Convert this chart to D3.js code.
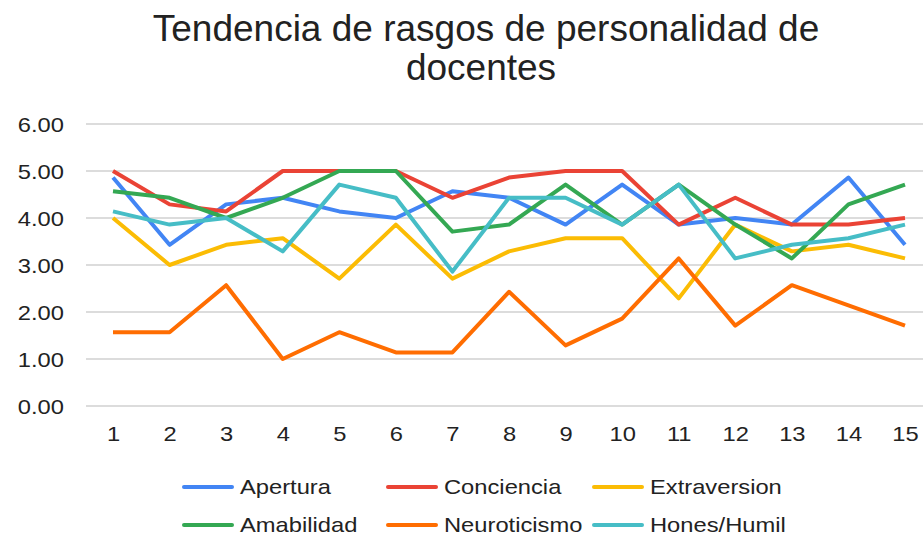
<!DOCTYPE html>
<html lang="es">
<head>
<meta charset="UTF-8">
<script src="https://cdn.jsdelivr.net/npm/d3@7"></script>
<title>Tendencia de rasgos</title>
<style>
  body { margin:0; background:#fff; }
  svg text { font-family: "Liberation Sans", Arial, sans-serif; fill:#222; }
</style>
</head>
<body>
<script>
// datos
const docentes = [1,2,3,4,5,6,7,8,9,10,11,12,13,14,15];
const seriesNames = ["Apertura","Conciencia","Extraversion","Amabilidad","Neuroticismo","Hones/Humil"];
const apertura     = [4.86,3.43,4.29,4.43,4.14,4.00,4.57,4.43,3.86,4.71,3.86,4.00,3.86,4.86,3.43];
const conciencia   = [5.00,4.29,4.14,5.00,5.00,5.00,4.43,4.86,5.00,5.00,3.86,4.43,3.86,3.86,4.00];
const extraversion = [4.00,3.00,3.43,3.57,2.71,3.86,2.71,3.29,3.57,3.57,2.29,3.86,3.29,3.43,3.14];
const amabilidad   = [4.57,4.43,4.00,4.43,5.00,5.00,3.71,3.86,4.71,3.86,4.71,3.86,3.14,4.29,4.71];
const neuroticismo = [1.57,1.57,2.57,1.00,1.57,1.14,1.14,2.43,1.29,1.86,3.14,1.71,2.57,2.14,1.71];
const honesHumil   = [4.14,3.86,4.00,3.29,4.71,4.43,2.86,4.43,4.43,3.86,4.71,3.14,3.43,3.57,3.86];
const yTicks = [0,1,2,3,4,5,6];

const colors = ["#4285f4","#ea4335","#fbbc04","#34a853","#ff6d01","#46bdc6"];
const allSeries = [apertura,conciencia,extraversion,amabilidad,neuroticismo,honesHumil];

const width = 923, height = 537;
const svg = d3.select("body").append("svg")
  .attr("width", width).attr("height", height);

const x = d3.scalePoint().domain(docentes).range([113, 905]);
const y = d3.scaleLinear().domain([0, 6]).range([406, 124]);
const stretch = "scale(1.13,1)";

// titulo
svg.append("text").attr("x", 486).attr("y", 41)
  .attr("text-anchor","middle").style("font-size","37px")
  .text("Tendencia de rasgos de personalidad de");
svg.append("text").attr("x", 481).attr("y", 80)
  .attr("text-anchor","middle").style("font-size","37px")
  .text("docentes");

// lineas de grilla
svg.append("g").selectAll("line").data(yTicks).enter().append("line")
  .attr("x1", 86).attr("x2", 923)
  .attr("y1", d => y(d)).attr("y2", d => y(d))
  .attr("stroke", "#d0d0d0").attr("stroke-width", 1.3);

const yAxis = svg.append("g").attr("transform","translate(64,0)")
  .call(d3.axisLeft(y).tickValues(yTicks).tickFormat(d3.format(".2f")).tickSize(0));
yAxis.select(".domain").remove();
yAxis.selectAll("text").attr("x", 0).attr("dy", "0.36em").style("font-size","21px")
  .attr("transform", stretch).attr("font-family", null).attr("fill", "#333");

const xAxis = svg.append("g").attr("transform","translate(0,406)")
  .call(d3.axisBottom(x).tickSize(0));
xAxis.select(".domain").remove();
xAxis.selectAll("text").attr("y", 20).style("font-size","21px")
  .attr("transform", stretch).attr("font-family", null).attr("fill", "#333");

const line = d3.line().x((d, i) => x(docentes[i])).y(d => y(d));

svg.append("g").selectAll("path").data(allSeries).enter().append("path")
  .attr("d", line)
  .attr("fill","none")
  .attr("stroke", (d, i) => colors[i])
  .attr("stroke-width", 4)
  .attr("stroke-linejoin","round");

// leyenda
const leg = svg.append("g").selectAll("g").data(seriesNames).enter().append("g")
  .attr("transform", (d, i) => "translate(" + [183, 387, 593][i % 3] + "," + (i < 3 ? 487 : 525) + ")");
leg.append("line").attr("x1", 1).attr("x2", 49).attr("y1", 0).attr("y2", 0)
  .attr("stroke", (d, i) => colors[i]).attr("stroke-width", 4).attr("stroke-linecap","round");
leg.append("text").attr("transform", "translate(57,7) " + stretch).style("font-size","21px")
  .text(d => d);
</script>
</body>
</html>
